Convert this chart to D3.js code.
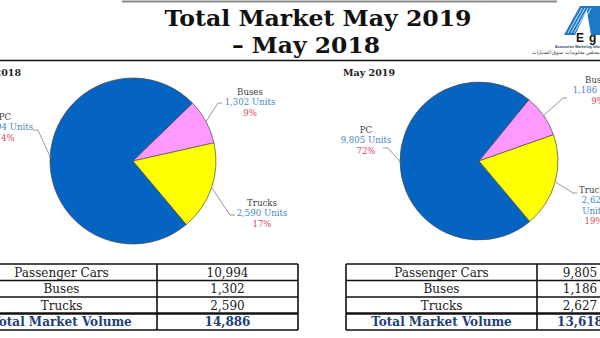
<!DOCTYPE html>
<html>
<head>
<meta charset="utf-8">
<script src="https://cdn.jsdelivr.net/npm/d3@7"></script>
<style>
  html, body { margin: 0; padding: 0; background: #fff; }
  svg { display: block; }
</style>
</head>
<body>
<svg id="chart" width="600" height="338"></svg>
<script>
// ---------- data ----------
const titleLines = ["Total Market May 2019", "\u2013 May 2018"];
const periods = ["May 2018", "May 2019"];
const pieNames = ["PC", "Buses", "Trucks"];
const categories = ["Passenger Cars", "Buses", "Trucks"];
const units2018 = [10994, 1302, 2590];
const units2019 = [9805, 1186, 2627];
const pct2018 = ["74%", "9%", "17%"];
const pct2019 = ["72%", "9%", "19%"];
const totalLabel = "Total Market Volume";
const totals = [14886, 13618];
const sliceColors = ["#0563C1", "#FF99FF", "#FFFF00"];

// ---------- layout ----------
const svg = d3.select("#chart");
const fmt = d3.format(",");
const serif = "'DejaVu Serif', 'Liberation Serif', serif";
const deg = Math.PI / 180;

// top rules
svg.append("line").attr("x1", 122).attr("x2", 557).attr("y1", 1.5).attr("y2", 1.5)
  .attr("stroke", "#8a8a8a").attr("stroke-width", 2);
svg.append("line").attr("x1", 0).attr("x2", 600).attr("y1", 60.5).attr("y2", 60.5)
  .attr("stroke", "#111").attr("stroke-width", 1.6);

// title
svg.selectAll("text.title").data(titleLines).join("text")
  .attr("class", "title")
  .attr("x", (d, i) => i === 0 ? 318 : 306)
  .attr("y", (d, i) => i === 0 ? 26 : 53)
  .attr("text-anchor", "middle")
  .attr("font-family", serif).attr("font-weight", "bold").attr("font-size", 23)
  .attr("fill", "#111")
  .attr("textLength", (d, i) => i === 0 ? 307 : 148)
  .attr("lengthAdjust", "spacingAndGlyphs")
  .text(d => d);

// logo (approximation)
const logo = svg.append("g");
logo.append("path").attr("d", "M564,35 L580,6 L589,6 L575,35 Z").attr("fill", "#1E78C8");
logo.append("path").attr("d", "M586,6 L600,6 L600,35 L591,35 Z").attr("fill", "#1E78C8");
[0, 1, 2, 3].forEach(k => {
  logo.append("line").attr("x1", 568 + k * 3).attr("y1", 33).attr("x2", 582 + k * 3).attr("y2", 8)
    .attr("stroke", "#fff").attr("stroke-width", 0.8);
});
logo.append("text").attr("x", 576).attr("y", 42).attr("font-family", "Liberation Sans, Arial, sans-serif")
  .attr("font-weight", "bold").attr("font-size", 12).attr("fill", "#111").text("E");
logo.append("text").attr("x", 589).attr("y", 42).attr("font-family", "Liberation Sans, Arial, sans-serif")
  .attr("font-weight", "bold").attr("font-size", 12).attr("fill", "#111").text("g");
logo.append("text").attr("x", 555).attr("y", 48).attr("font-family", "Liberation Sans, Arial, sans-serif")
  .attr("font-weight", "bold").attr("font-size", 3.5).attr("fill", "#1a3d6e").text("Automotive Marketing Information Council");
logo.append("text").attr("x", 600).attr("y", 54).attr("text-anchor", "end").attr("font-family", "'Noto Sans', sans-serif")
  .attr("font-size", 5).attr("fill", "#333").text("مجلس معلومات سوق السيارات");

// ---------- pies ----------
const panels = [
  {
    period: periods[0], units: units2018, pct: pct2018,
    cx: 133, cy: 161, r: 83, periodX: 21,
    labels: [
      { x: 5, y: 120, lines: d => [pieNames[0], fmt(d) + " Units"], end: [[33, 130], [38, 130]] },
      { x: 250, y: 95, lines: d => [pieNames[1], fmt(d) + " Units"], end: [[222, 103], [218, 103]] },
      { x: 262, y: 206, lines: d => [pieNames[2], fmt(d) + " Units"], end: [[235, 215], [230, 215]] }
    ]
  },
  {
    period: periods[1], units: units2019, pct: pct2019,
    cx: 479, cy: 161, r: 79, periodX: 395,
    labels: [
      { x: 366, y: 133, lines: d => [pieNames[0], fmt(d) + " Units"], end: [[383, 148], [388, 148]] },
      { x: 598, y: 83, lines: d => [pieNames[1], fmt(d) + " Units"], end: [[567, 98], [563, 98]] },
      { x: 594, y: 193, lines: d => [pieNames[2], fmt(d), "Units"], end: [[577, 193], [573, 193]] }
    ]
  }
];

const pie = d3.pie().sort(null).startAngle(140 * deg).endAngle(500 * deg);

panels.forEach(p => {
  svg.append("text").attr("x", p.periodX).attr("y", 76).attr("text-anchor", "end")
    .attr("font-family", serif).attr("font-weight", "bold").attr("font-size", 9.5)
    .attr("fill", "#222").text(p.period);

  const arcs = pie(p.units);
  const arc = d3.arc().innerRadius(0).outerRadius(p.r);
  const g = svg.append("g").attr("transform", `translate(${p.cx},${p.cy})`);
  g.selectAll("path").data(arcs).join("path")
    .attr("d", arc)
    .attr("fill", (d, i) => sliceColors[i])
    .attr("stroke", "#4a4a4a").attr("stroke-width", 0.7);

  arcs.forEach((a, i) => {
    const L = p.labels[i];
    const mid = (a.startAngle + a.endAngle) / 2;
    const ax = p.cx + p.r * Math.sin(mid), ay = p.cy - p.r * Math.cos(mid);
    const pts = [L.end[0], L.end[1], [ax, ay]];
    svg.append("path").attr("d", d3.line()(pts)).attr("fill", "none")
      .attr("stroke", "#7f7f7f").attr("stroke-width", 0.8);

    const lines = L.lines(p.units[i]).concat([p.pct[i]]);
    const t = svg.append("text").attr("text-anchor", "middle")
      .attr("font-family", serif).attr("font-size", 8.6);
    lines.forEach((s, k) => {
      const isName = k === 0, isPct = k === lines.length - 1;
      t.append("tspan").attr("x", L.x).attr("y", L.y + k * 10.3)
        .attr("fill", isName ? "#404040" : isPct ? "#E0475A" : "#4A86C5")
        .text(s);
    });
  });
});

// ---------- tables ----------
const tables = [
  { x0: -34, x1: 157, x2: 298, units: units2018, total: totals[0] },
  { x0: 346, x1: 537, x2: 623, units: units2019, total: totals[1] }
];
const rowNames = categories.concat([totalLabel]);
const y = d3.scaleBand().domain(d3.range(4)).range([264, 330]);

tables.forEach(tb => {
  const vals = tb.units.map(fmt).concat([fmt(tb.total)]);
  const g = svg.append("g");
  g.selectAll("text.name").data(rowNames).join("text")
    .attr("x", (tb.x0 + tb.x1) / 2)
    .attr("y", (d, i) => y(i) + y.bandwidth() / 2 + 4.3)
    .attr("text-anchor", "middle")
    .attr("font-family", serif).attr("font-size", 12)
    .attr("font-weight", (d, i) => i === 3 ? "bold" : "normal")
    .attr("fill", (d, i) => i === 3 ? "#1F3F78" : "#1a1a1a")
    .text(d => d);
  g.selectAll("text.val").data(vals).join("text")
    .attr("x", (tb.x1 + tb.x2) / 2)
    .attr("y", (d, i) => y(i) + y.bandwidth() / 2 + 4.3)
    .attr("text-anchor", "middle")
    .attr("font-family", serif).attr("font-size", 12)
    .attr("font-weight", (d, i) => i === 3 ? "bold" : "normal")
    .attr("fill", (d, i) => i === 3 ? "#1F3F78" : "#1a1a1a")
    .text(d => d);
  // horizontal borders
  d3.range(5).forEach(k => {
    const yy = k < 4 ? y(k) : y.range()[1];
    g.append("line").attr("x1", tb.x0).attr("x2", tb.x2).attr("y1", yy).attr("y2", yy)
      .attr("stroke", "#111").attr("stroke-width", k === 3 ? 2.4 : 1.6);
  });
  [tb.x0, tb.x1, tb.x2].forEach(xx => {
    g.append("line").attr("x1", xx).attr("x2", xx).attr("y1", 264).attr("y2", 330)
      .attr("stroke", "#111").attr("stroke-width", 1.6);
  });
});
</script>
</body>
</html>
